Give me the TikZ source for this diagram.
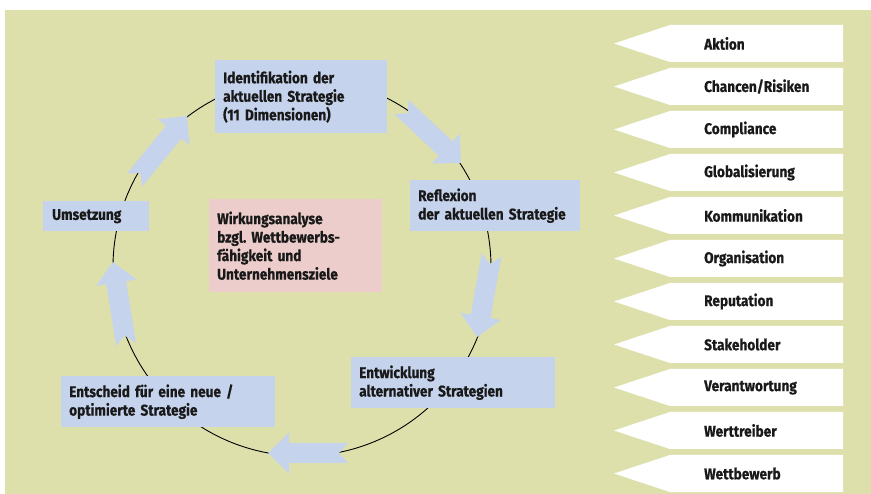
\documentclass[tikz,border=0pt]{standalone}
\usepackage{fontspec}
\setmainfont{Fira Sans}[FakeStretch=0.88, BoldFeatures={FakeStretch=0.88, FakeBold=0.6}]
\usetikzlibrary{calc}
\frenchspacing
\definecolor{bggreen}{HTML}{DEE0AC}
\definecolor{boxblue}{HTML}{C5D3EC}
\definecolor{boxpink}{HTML}{EDCDCB}
\tikzset{
  txt/.style={font=\fontsize{15.5}{18.5}\selectfont\bfseries, text=black!90, align=left},
  bluebox/.style={txt, fill=boxblue, anchor=north west, inner xsep=8pt, inner ysep=0pt},
  pinkbox/.style={txt, fill=boxpink, anchor=north west, inner xsep=8pt, inner ysep=0pt},
  arrowfill/.style={fill=boxblue},
}
\newcommand{\blockarrow}[2]{%
  \coordinate (ba-h) at ($(#2)!21pt!(#1)$);
  \fill[arrowfill] ($(#1)!10pt!90:(#2)$) -- ($(ba-h)!10pt!90:(#2)$) -- ($(ba-h)!20.5pt!90:(#2)$) -- (#2)
    -- ($(ba-h)!20.5pt!-90:(#2)$) -- ($(ba-h)!10pt!-90:(#2)$) -- ($(#1)!10pt!-90:(#2)$) -- ($(#1)!9pt!(#2)$) -- cycle;}
\begin{document}
\begin{tikzpicture}[x=1pt,y=-1pt]
\useasboundingbox (0,0) rectangle (871,494);
\fill[bggreen] (5,10) rectangle (871,494);
% cycle circle
\coordinate (c) at (302,267);
\draw[line width=0.9pt] (c) circle[radius=189pt];
% boxes
\node[bluebox, text width=156pt, minimum height=73pt] (ident) at (215,60) {Identifikation der\\aktuellen Strategie\\(11 Dimensionen)};
\node[bluebox, text width=154pt, minimum height=51pt] (refl) at (410,180) {Reflexion\\der aktuellen Strategie};
\node[bluebox, text width=188pt, minimum height=51pt] (entw) at (351,357) {Entwicklung\\alternativer Strategien};
\node[bluebox, text width=198pt, minimum height=51pt] (ents) at (61,376) {Entscheid für eine neue /\\optimierte Strategie};
\node[bluebox, inner xsep=9pt, text width=88pt, minimum height=30pt] (ums) at (43,201) {Umsetzung};
\node[pinkbox, text width=157pt, minimum height=93pt] (wirk) at (209,199) {Wirkungsanalyse\\bzgl. Wettbewerbs-\\fähigkeit und\\Unternehmensziele};
% arrows (chords of the circle)
\coordinate (a1t) at (401.5,107); \coordinate (a1h) at (461,163);
\coordinate (a2t) at (491.5,255); \coordinate (a2h) at (477,337);
\coordinate (a3t) at (348,453);   \coordinate (a3h) at (268,453);
\coordinate (a4t) at (126,344.5); \coordinate (a4h) at (113,262);
\coordinate (a5t) at (134.5,180); \coordinate (a5h) at (187,116);
\blockarrow{a1t}{a1h}
\blockarrow{a2t}{a2h}
\blockarrow{a3t}{a3h}
\blockarrow{a4t}{a4h}
\blockarrow{a5t}{a5h}
% tags
\foreach \lbl [count=\i] in {Aktion,Chancen/Risiken,Compliance,Globalisierung,Kommunikation,Organisation,Reputation,Stakeholder,Verantwortung,Werttreiber,Wettbewerb}{
  \pgfmathsetmacro{\yt}{25+43*(\i-1)}
  \fill[white] (614,\yt+18.5) -- (670,\yt) -- (843,\yt) -- (843,\yt+37) -- (670,\yt+37) -- cycle;
  \node[txt, anchor=west, inner sep=0pt] (tag\i) at (704,\yt+18.5) {\lbl};
}
\end{tikzpicture}
\end{document}
